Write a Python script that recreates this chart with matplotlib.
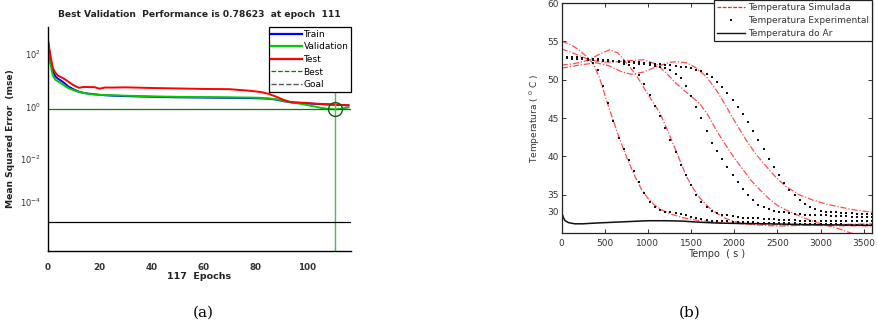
import numpy as np
import matplotlib
matplotlib.use('Agg')
import matplotlib.pyplot as plt
import matplotlib.transforms as mtransforms
from matplotlib.lines import Line2D

# -----------------------------------------------------------------------------
# (a) training performance (mse per epoch)
# -----------------------------------------------------------------------------
epochs = [0, 1, 2, 3, 4, 6, 8, 10, 12, 14, 16, 18, 20, 22, 25, 30, 40, 50, 60,
          70, 78, 82, 85, 88, 91, 94, 97, 100, 103, 106, 109, 111, 113, 116]
mse_test = [420, 95, 29, 19, 15, 12, 8.8, 6.5, 5.2, 5.6, 5.5, 5.5, 4.8, 5.3, 5.3,
            5.4, 5.1, 4.9, 4.7, 4.6, 4.0, 3.6, 3.1, 2.4, 1.8, 1.45, 1.42, 1.38,
            1.3, 1.25, 1.2, 1.18, 1.16, 1.13]
mse_val = [300, 45, 15, 10.5, 9.0, 6.8, 5.0, 4.2, 3.6, 3.3, 3.0, 2.9, 2.8, 2.75,
           2.7, 2.6, 2.45, 2.35, 2.3, 2.25, 2.2, 2.15, 2.05, 1.9, 1.65, 1.45,
           1.3, 1.15, 1.0, 0.87, 0.80, 0.786, 0.82, 0.93]
mse_train = [360, 70, 22, 14, 11.5, 8.5, 5.8, 4.5, 3.7, 3.3, 3.1, 2.95, 2.8, 2.7,
             2.6, 2.5, 2.35, 2.25, 2.2, 2.15, 2.1, 2.05, 2.0, 1.85, 1.6, 1.45,
             1.38, 1.32, 1.27, 1.23, 1.2, 1.18, 1.15, 1.1]
best_epoch = 111
best_perf = 0.78623
goal = 4e-5
n_epochs = 117

# -----------------------------------------------------------------------------
# (b) simulated vs experimental temperature
# -----------------------------------------------------------------------------
t_sim1 = [0, 100, 200, 300, 370, 440, 520, 600, 680, 760, 840, 920, 1000, 1080,
          1160, 1260, 1400, 1600, 1850, 2100, 2400, 2800, 3200, 3600]
T_sim1 = [55.0, 54.6, 53.9, 52.9, 52.0, 50.2, 47.3, 44.6, 42.0, 39.7, 37.6, 35.8,
          34.5, 33.6, 33.0, 32.5, 32.0, 31.6, 31.35, 31.2, 31.1, 31.0, 30.95, 30.9]
t_sim2 = [0, 150, 300, 450, 558, 650, 720, 800, 870, 950, 1050, 1136, 1230, 1329,
          1445, 1520, 1599, 1700, 1792, 1900, 2000, 2200, 2500, 2800, 3200, 3600]
T_sim2 = [51.9, 52.1, 52.5, 53.4, 53.9, 53.5, 52.6, 51.5, 50.5, 49.0, 47.2, 45.7,
          43.3, 40.6, 37.4, 35.9, 34.6, 33.4, 32.6, 31.9, 31.5, 31.1, 30.9, 31.0,
          31.1, 31.2]
t_sim3 = [0, 150, 300, 450, 600, 800, 950, 1100, 1200, 1329, 1450, 1599, 1700,
          1792, 1900, 2000, 2100, 2200, 2300, 2400, 2500, 2600, 2800, 3000, 3200,
          3350, 3500, 3600]
T_sim3 = [54.0, 53.4, 52.7, 52.3, 52.3, 52.5, 52.6, 52.0, 51.0, 49.5, 48.3, 46.9,
          45.3, 43.4, 41.5, 39.8, 38.3, 36.8, 35.6, 34.5, 33.6, 33.0, 32.0, 31.2,
          30.6, 30.0, 29.5, 29.2]
t_sim4 = [0, 200, 400, 550, 700, 809, 950, 1100, 1250, 1329, 1450, 1550, 1676,
          1800, 1907, 2020, 2139, 2250, 2370, 2480, 2601, 2750, 2909, 3060, 3217,
          3400, 3600]
T_sim4 = [51.5, 51.9, 52.2, 51.8, 51.0, 50.7, 51.0, 51.7, 52.25, 52.35, 52.2, 51.6,
          50.4, 48.5, 46.5, 44.3, 42.1, 40.3, 38.7, 37.3, 36.05, 35.0, 34.3, 33.8,
          33.4, 33.0, 32.7]

t_exp = [0, 60, 120, 180, 240, 300, 360, 420, 480, 540, 600, 660, 720, 780, 840,
         900, 960, 1020, 1080, 1140, 1200, 1260, 1320, 1380, 1440, 1500, 1560,
         1620, 1680, 1740, 1800, 1860, 1920, 1980, 2040, 2100, 2160, 2220, 2280,
         2340, 2400, 2460, 2520, 2580, 2640, 2700, 2760, 2820, 2880, 2940, 3000,
         3060, 3120, 3180, 3240, 3300, 3360, 3420, 3480, 3540, 3600]
T_exp1 = [53.1, 53.0, 52.95, 52.9, 52.8, 52.6, 52.2, 51.3, 49.2, 46.9, 44.6, 42.4,
          40.9, 39.5, 38.1, 36.6, 35.2, 34.1, 33.4, 33.0, 32.8, 32.7, 32.6, 32.5,
          32.3, 32.1, 31.9, 31.8, 31.7, 31.6, 31.5, 31.5, 31.5, 31.4, 31.4, 31.4,
          31.4, 31.4, 31.3, 31.3, 31.3, 31.3, 31.3, 31.3, 31.3, 31.3, 31.2, 31.2,
          31.2, 31.2, 31.2, 31.2, 31.2, 31.2, 31.2, 31.1, 31.1, 31.1, 31.1, 31.1,
          31.1]
T_exp2 = [53.0, 52.95, 52.9, 52.85, 52.8, 52.75, 52.7, 52.6, 52.55, 52.5, 52.4,
          52.3, 52.1, 51.9, 51.5, 50.6, 49.4, 48.0, 46.6, 45.2, 43.7, 42.1, 40.5,
          38.9, 37.5, 36.2, 35.0, 34.1, 33.4, 32.9, 32.6, 32.4, 32.3, 32.2, 32.1,
          32.0, 32.0, 31.9, 31.9, 31.8, 31.8, 31.8, 31.7, 31.7, 31.7, 31.7, 31.6,
          31.6, 31.6, 31.6, 31.6, 31.6, 31.5, 31.5, 31.5, 31.5, 31.5, 31.5, 31.5,
          31.5, 31.5]
T_exp3 = [52.8, 52.8, 52.75, 52.7, 52.7, 52.65, 52.6, 52.55, 52.5, 52.45, 52.4,
          52.35, 52.3, 52.25, 52.2, 52.1, 52.0, 51.9, 51.8, 51.6, 51.5, 51.2, 50.8,
          50.2, 49.2, 47.9, 46.5, 45.0, 43.3, 41.7, 40.7, 39.6, 38.6, 37.6, 36.6,
          35.8, 35.0, 34.3, 33.7, 33.4, 33.1, 32.9, 32.8, 32.7, 32.6, 32.5, 32.5,
          32.4, 32.4, 32.3, 32.3, 32.3, 32.2, 32.2, 32.2, 32.2, 32.1, 32.1, 32.1,
          32.1, 32.1]
T_exp4 = [52.9, 52.9, 52.85, 52.8, 52.8, 52.75, 52.7, 52.65, 52.6, 52.55, 52.5,
          52.45, 52.4, 52.35, 52.3, 52.25, 52.2, 52.15, 52.1, 52.0, 51.9, 51.85,
          51.8, 51.7, 51.6, 51.5, 51.3, 51.1, 50.8, 50.4, 49.7, 49.0, 48.2, 47.3,
          46.4, 45.5, 44.5, 43.3, 42.1, 40.9, 39.7, 38.6, 37.5, 36.5, 35.6, 34.9,
          34.3, 33.8, 33.4, 33.1, 32.9, 32.8, 32.7, 32.7, 32.6, 32.6, 32.6, 32.5,
          32.5, 32.5, 32.5]

t_air = [0, 20, 40, 80, 150, 250, 400, 600, 800, 1000, 1200, 1400, 1600, 1800,
         2000, 2400, 2800, 3200, 3600]
T_air = [32.7, 32.0, 31.6, 31.35, 31.2, 31.2, 31.3, 31.4, 31.5, 31.6, 31.6, 31.55,
         31.4, 31.3, 31.25, 31.2, 31.1, 31.05, 31.0]


fig = plt.figure(figsize=(8.78, 3.31), dpi=100)

# =============================================================================
# Left panel
# =============================================================================
ax1 = fig.add_axes([0.0543, 0.2417, 0.3455, 0.6767])
ax1.semilogy(epochs, mse_train, color='#0000ff', lw=1.4)
ax1.semilogy(epochs, mse_val, color='#00cc00', lw=1.4)
ax1.semilogy(epochs, mse_test, color='#ff0000', lw=1.4)
ax1.axhline(best_perf, color='#008000', lw=0.9)
ax1.axvline(best_epoch, color='#60b060', lw=1.0)
ax1.axhline(goal, color='black', lw=0.9)
ax1.plot([best_epoch], [best_perf], 'o', ms=10, mfc='none', mec='#006400', mew=1.0)

ax1.set_xlim(0, n_epochs)
ax1.set_ylim(10 ** -5.5, 10 ** 3.03)
ax1.set_yticks([1e2, 1e0, 1e-2, 1e-4])
ax1.set_yticklabels(['$10^{2}$', '$10^{0}$', '$10^{-2}$', '$10^{-4}$'])
ax1.minorticks_off()
ax1.set_xticks([0, 20, 40, 60, 80, 100])
ax1.tick_params(axis='both', direction='in', length=0, colors='#333333')
ax1.tick_params(axis='y', labelsize=6, pad=5)
ax1.tick_params(axis='x', labelsize=6.3, pad=9)
for lab in ax1.get_xticklabels():
    lab.set_fontweight('bold')
for s in ['top', 'right']:
    ax1.spines[s].set_visible(False)
ax1.spines['left'].set_linewidth(1.0)
ax1.spines['bottom'].set_linewidth(1.0)

# the 10^-4 label sits a bit higher in the reference
lab = ax1.get_yticklabels()[3]
lab.set_transform(lab.get_transform() +
                  mtransforms.ScaledTranslation(0, 10 / 100, fig.dpi_scale_trans))

ax1.set_title('Best Validation  Performance is 0.78623  at epoch  111',
              fontsize=6.6, fontweight='bold', pad=7, color='#222222')
ax1.set_xlabel('117  Epochs', fontsize=6.8, fontweight='bold', labelpad=0,
               color='#222222')
ax1.set_ylabel('Mean Squared Error  (mse)', fontsize=6.6, fontweight='bold',
               labelpad=3, color='#222222')

handles1 = [Line2D([], [], color='#0000ff', lw=1.6),
            Line2D([], [], color='#00cc00', lw=1.6),
            Line2D([], [], color='#ff0000', lw=1.6),
            Line2D([], [], color='#008000', lw=0.9, ls='--'),
            Line2D([], [], color='#555555', lw=1.0, ls='--')]
leg1 = ax1.legend(handles1, ['Train', 'Validation', 'Test', 'Best', 'Goal'],
                  loc='upper right', bbox_to_anchor=(1.0, 1.0), borderaxespad=0,
                  fontsize=6.5, handlelength=3.4, handletextpad=0.15,
                  labelspacing=0.4, borderpad=0.3, fancybox=False,
                  framealpha=1, edgecolor='black')
leg1.get_frame().set_linewidth(0.9)

# =============================================================================
# Right panel
# =============================================================================
ax2 = fig.add_axes([0.6397, 0.2961, 0.3538, 0.6948])
sim_style = dict(color='#ff3030', lw=0.9, ls=(0, (5, 1.5, 1, 1.5)), alpha=0.85)
ax2.plot(t_sim1, T_sim1, **sim_style)
ax2.plot(t_sim2, T_sim2, **sim_style)
ax2.plot(t_sim3, T_sim3, **sim_style)
ax2.plot(t_sim4, T_sim4, **sim_style)
for T_exp in [T_exp1, T_exp2, T_exp3, T_exp4]:
    ax2.plot(t_exp, T_exp, 's', color='#111111', ms=1.7, mew=0)
ax2.plot(t_air, T_air, color='#111111', lw=1.1)

ax2.set_xlim(0, 3600)
ax2.set_ylim(30, 60)
ax2.set_xticks([0, 500, 1000, 1500, 2000, 2500, 3000, 3500])
ax2.set_yticks([30, 35, 40, 45, 50, 55, 60])
ax2.tick_params(axis='both', direction='in', top=True, right=True, length=3,
                width=0.7, labelsize=6.5, colors='#333333')
ax2.tick_params(axis='x', pad=4)
ax2.tick_params(axis='y', pad=2)
for s in ax2.spines.values():
    s.set_linewidth(0.9)
    s.set_color('#222222')

# the 30 label is drawn higher in the reference
lab = ax2.get_yticklabels()[0]
lab.set_transform(lab.get_transform() +
                  mtransforms.ScaledTranslation(0, 21 / 100, fig.dpi_scale_trans))

ax2.set_xlabel('Tempo  ( s )', fontsize=7, labelpad=1, color='#333333')
ax2.set_ylabel('Temperatura ( $^{0}$ C )', fontsize=6.5, labelpad=4, color='#333333')

handles2 = [Line2D([], [], color='#ff2020', lw=0.9, ls=(0, (3, 1.2))),
            Line2D([], [], marker='s', color='#111111', ls='none', ms=1.8, mew=0),
            Line2D([], [], color='#111111', lw=1.0)]
leg2 = ax2.legend(handles2, ['Temperatura Simulada', 'Temperatura Experimental',
                             'Temperatura do Ar'],
                  loc='upper right', bbox_to_anchor=(1.0, 1.013), borderaxespad=0,
                  fontsize=6.5, handlelength=3.0, handletextpad=0.4,
                  labelspacing=0.45, borderpad=0.35, fancybox=False,
                  framealpha=1, edgecolor='#222222')
leg2.get_frame().set_linewidth(0.9)
for txt in leg2.get_texts():
    txt.set_color('#333333')

# captions
fig.text(203 / 878, 1 - 313 / 331, '(a)', family='DejaVu Serif', fontsize=11,
         ha='center', va='center')
fig.text(690 / 878, 1 - 313 / 331, '(b)', family='DejaVu Serif', fontsize=11,
         ha='center', va='center')

fig.savefig('out.png', dpi=100)
